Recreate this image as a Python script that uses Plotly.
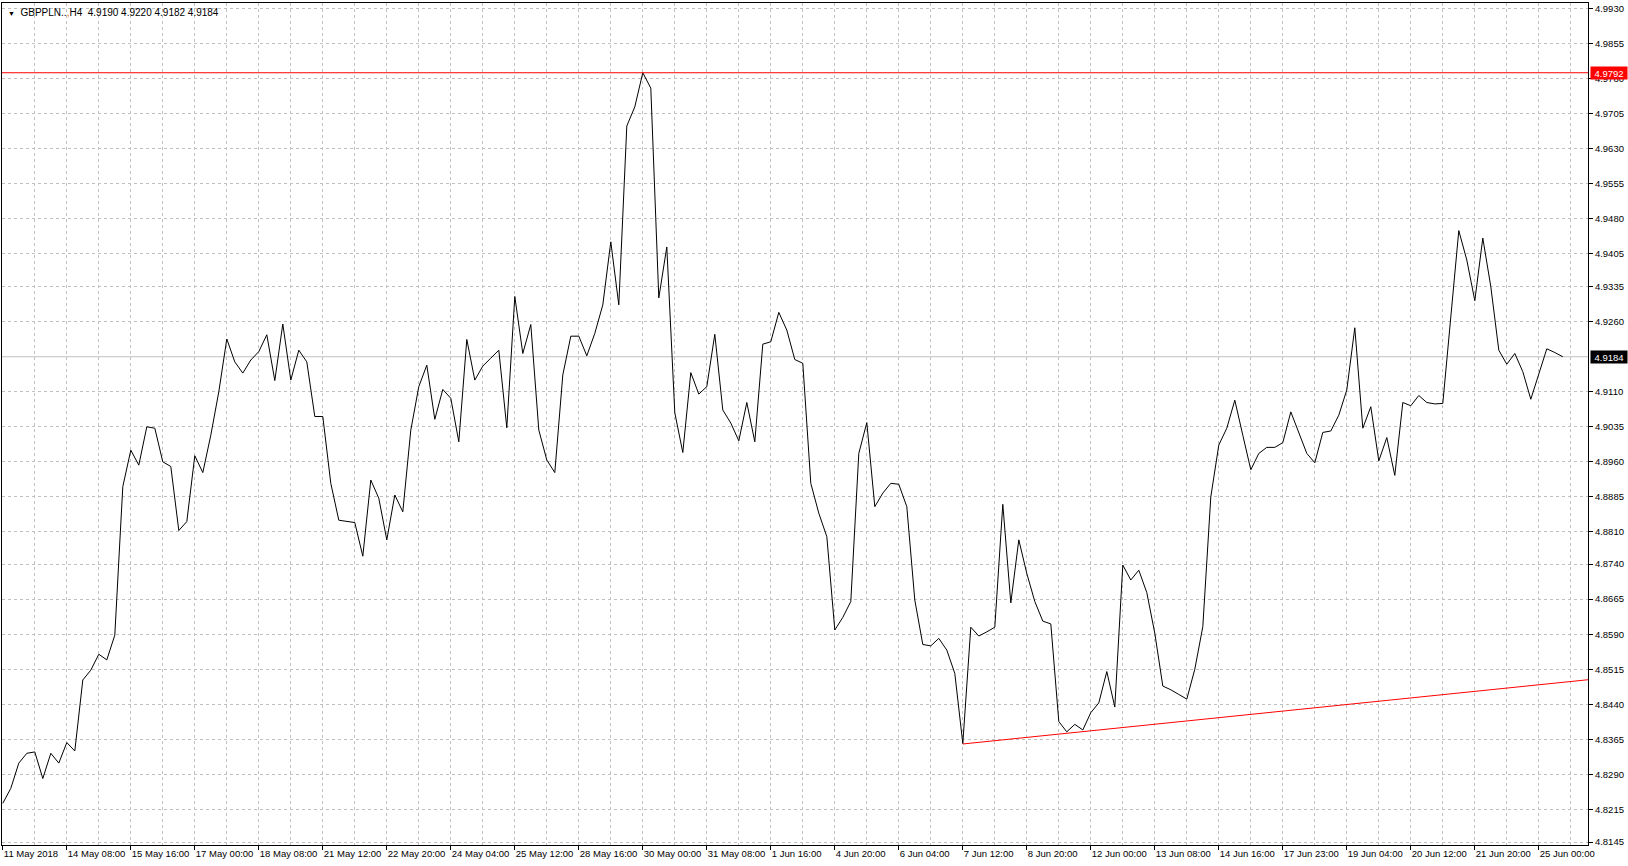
import plotly.graph_objects as go

# ---------------- data ----------------
bar_index = list(range(196))  # H4 bars, 11 May 2018 00:00 ... 25 Jun 2018

close = [
    4.8228, 4.8260, 4.8314, 4.8335, 4.8338, 4.8281, 4.8335, 4.8314, 4.8358, 4.8340,
    4.8492, 4.8513, 4.8547, 4.8535, 4.8588, 4.8906, 4.8984, 4.8952, 4.9034, 4.9031,
    4.8959, 4.8949, 4.8812, 4.8831, 4.8972, 4.8936, 4.9016, 4.9109, 4.9222, 4.9173,
    4.9149, 4.9177, 4.9195, 4.9231, 4.9133, 4.9254, 4.9134, 4.9198, 4.9173, 4.9056,
    4.9056, 4.8913, 4.8834, 4.8832, 4.8829, 4.8757, 4.8920, 4.8881, 4.8792, 4.8888,
    4.8852, 4.9027, 4.9120, 4.9166, 4.9050, 4.9114, 4.9095, 4.9002, 4.9221, 4.9134,
    4.9164, 4.9181, 4.9198, 4.9032, 4.9313, 4.9191, 4.9253, 4.9027, 4.8963, 4.8936,
    4.9145, 4.9228, 4.9228, 4.9186, 4.9234, 4.9295, 4.9430, 4.9295, 4.9678, 4.9719,
    4.9792, 4.9759, 4.9310, 4.9419, 4.9064, 4.8979, 4.9150, 4.9104, 4.9120, 4.9232,
    4.9070, 4.9042, 4.9004, 4.9086, 4.9002, 4.9211, 4.9216, 4.9279, 4.9241, 4.9178,
    4.9170, 4.8913, 4.8849, 4.8799, 4.8599, 4.8626, 4.8660, 4.8977, 4.9043, 4.8863,
    4.8892, 4.8913, 4.8911, 4.8863, 4.8663, 4.8568, 4.8565, 4.8581, 4.8556, 4.8506,
    4.8356, 4.8605, 4.8586, 4.8595, 4.8605, 4.8868, 4.8657, 4.8792, 4.8720, 4.8660,
    4.8618, 4.8612, 4.8403, 4.8381, 4.8397, 4.8385, 4.8422, 4.8443, 4.8510, 4.8434,
    4.8738, 4.8706, 4.8727, 4.8679, 4.8592, 4.8479, 4.8471, 4.8461, 4.8451, 4.8515,
    4.8606, 4.8884, 4.8995, 4.9031, 4.9091, 4.9016, 4.8942, 4.8977, 4.8990, 4.8990,
    4.9000, 4.9066, 4.9020, 4.8977, 4.8957, 4.9022, 4.9025, 4.9059, 4.9113, 4.9246,
    4.9031, 4.9077, 4.8961, 4.9011, 4.8930, 4.9086, 4.9079, 4.9101, 4.9086, 4.9083,
    4.9084, 4.9263, 4.9454, 4.9391, 4.9304, 4.9438, 4.9334, 4.9198, 4.9168, 4.9191,
    4.9152, 4.9093, 4.9149, 4.9201, 4.9193, 4.9184,
]

x_tick_bars = [0, 8, 16, 24, 32, 40, 48, 56, 64, 72, 80, 88, 96, 104, 112, 120,
               128, 136, 144, 152, 160, 168, 176, 184, 192]
x_tick_labels = ["11 May 2018", "14 May 08:00", "15 May 16:00", "17 May 00:00",
                 "18 May 08:00", "21 May 12:00", "22 May 20:00", "24 May 04:00",
                 "25 May 12:00", "28 May 16:00", "30 May 00:00", "31 May 08:00",
                 "1 Jun 16:00", "4 Jun 20:00", "6 Jun 04:00", "7 Jun 12:00",
                 "8 Jun 20:00", "12 Jun 00:00", "13 Jun 08:00", "14 Jun 16:00",
                 "17 Jun 23:00", "19 Jun 04:00", "20 Jun 12:00", "21 Jun 20:00",
                 "25 Jun 00:00"]

y_tick_labels = ["4.9930", "4.9855", "4.9780", "4.9705", "4.9630", "4.9555",
                 "4.9480", "4.9405", "4.9335", "4.9260", "4.9110", "4.9035",
                 "4.8960", "4.8885", "4.8810", "4.8740", "4.8665", "4.8590",
                 "4.8515", "4.8440", "4.8365", "4.8290", "4.8215", "4.8145"]

trend_bars = [120, 199]
trend_prices = [4.8355, 4.8494]

resistance_price = 4.9792
bid_price = 4.9184

symbol = "GBPPLN.."
timeframe = "H4"
ohlc_text = ["4.9190", "4.9220", "4.9182", "4.9184"]

# ---------------- figure ----------------
FONT = "Liberation Sans, Arial, sans-serif"
GRID = "#C0C0C0"

fig = go.Figure()

# bid line (grey) and resistance (red) horizontal lines
fig.add_hline(y=bid_price, line=dict(color="#C0C0C0", width=1), layer="below")
fig.add_hline(y=resistance_price, line=dict(color="#FF0000", width=1))

fig.add_trace(go.Scatter(
    x=bar_index, y=close, mode="lines",
    line=dict(color="#000000", width=1), hoverinfo="skip", showlegend=False,
))

fig.add_trace(go.Scatter(
    x=trend_bars, y=trend_prices, mode="lines",
    line=dict(color="#FF0000", width=1), hoverinfo="skip", showlegend=False,
))

fig.update_layout(
    template="none",
    width=1628, height=866,
    margin=dict(l=2, r=40, t=3, b=21, pad=0),
    paper_bgcolor="#FFFFFF", plot_bgcolor="#FFFFFF",
    font=dict(family=FONT, size=9.5, color="#000000"),
    showlegend=False,
)

fig.update_xaxes(
    range=[-0.1, 198.15], automargin=False, tickangle=0,
    tickmode="array", tickvals=x_tick_bars, ticktext=x_tick_labels,
    ticks="outside", ticklen=4, tickcolor="#000000", tickwidth=1,
    ticklabelposition="outside right",
    tickfont=dict(family=FONT, size=9.5, color="#000000"),
    showgrid=True, gridcolor=GRID, gridwidth=1, griddash="3px,3px",
    minor=dict(tickmode="linear", tick0=0, dtick=4, showgrid=True,
               gridcolor=GRID, gridwidth=1, griddash="3px,3px", ticks=""),
    showline=True, linecolor="#000000", linewidth=1, mirror=True,
    zeroline=False, fixedrange=True,
)

fig.update_yaxes(
    range=[4.81387, 4.99413], automargin=False, tickangle=0,
    side="right",
    tickmode="array", tickvals=[float(v) for v in y_tick_labels], ticktext=y_tick_labels,
    ticks="outside", ticklen=4, tickcolor="#000000", tickwidth=1,
    tickfont=dict(family=FONT, size=9.5, color="#000000"),
    showgrid=True, gridcolor=GRID, gridwidth=1, griddash="3px,3px",
    showline=True, linecolor="#000000", linewidth=1, mirror=True,
    zeroline=False, fixedrange=True,
)

# price labels on the right axis
fig.add_annotation(
    x=1, xref="paper", xanchor="left", xshift=2,
    y=resistance_price, yref="y", yanchor="middle",
    text=f"{resistance_price:.4f}", showarrow=False,
    bgcolor="#FF0000", font=dict(family=FONT, size=9.5, color="#FFFFFF"),
    width=34, height=10, borderpad=1, align="center",
)
fig.add_annotation(
    x=1, xref="paper", xanchor="left", xshift=2,
    y=bid_price, yref="y", yanchor="middle",
    text=f"{bid_price:.4f}", showarrow=False,
    bgcolor="#000000", font=dict(family=FONT, size=9.5, color="#FFFFFF"),
    width=34, height=10, borderpad=1, align="center",
)

# header
head = (f"<span style='font-size:7px'>\u25BC</span>\u00a0\u00a0"
        f"{symbol.replace('..', '..<span style=\"color:#D2691E\">,</span>')}{timeframe}"
        f"\u00a0\u00a0{' '.join(ohlc_text)}")
fig.add_annotation(
    x=0, xref="paper", xanchor="left", xshift=4,
    y=1, yref="paper", yanchor="top", yshift=-2,
    text=head, showarrow=False, align="left",
    font=dict(family=FONT, size=10, color="#000000"),
)

fig.write_html(
    "out.html",
    config={"displayModeBar": False, "staticPlot": True},
    post_script="document.body.style.margin='0';document.body.style.overflow='hidden';",
)
